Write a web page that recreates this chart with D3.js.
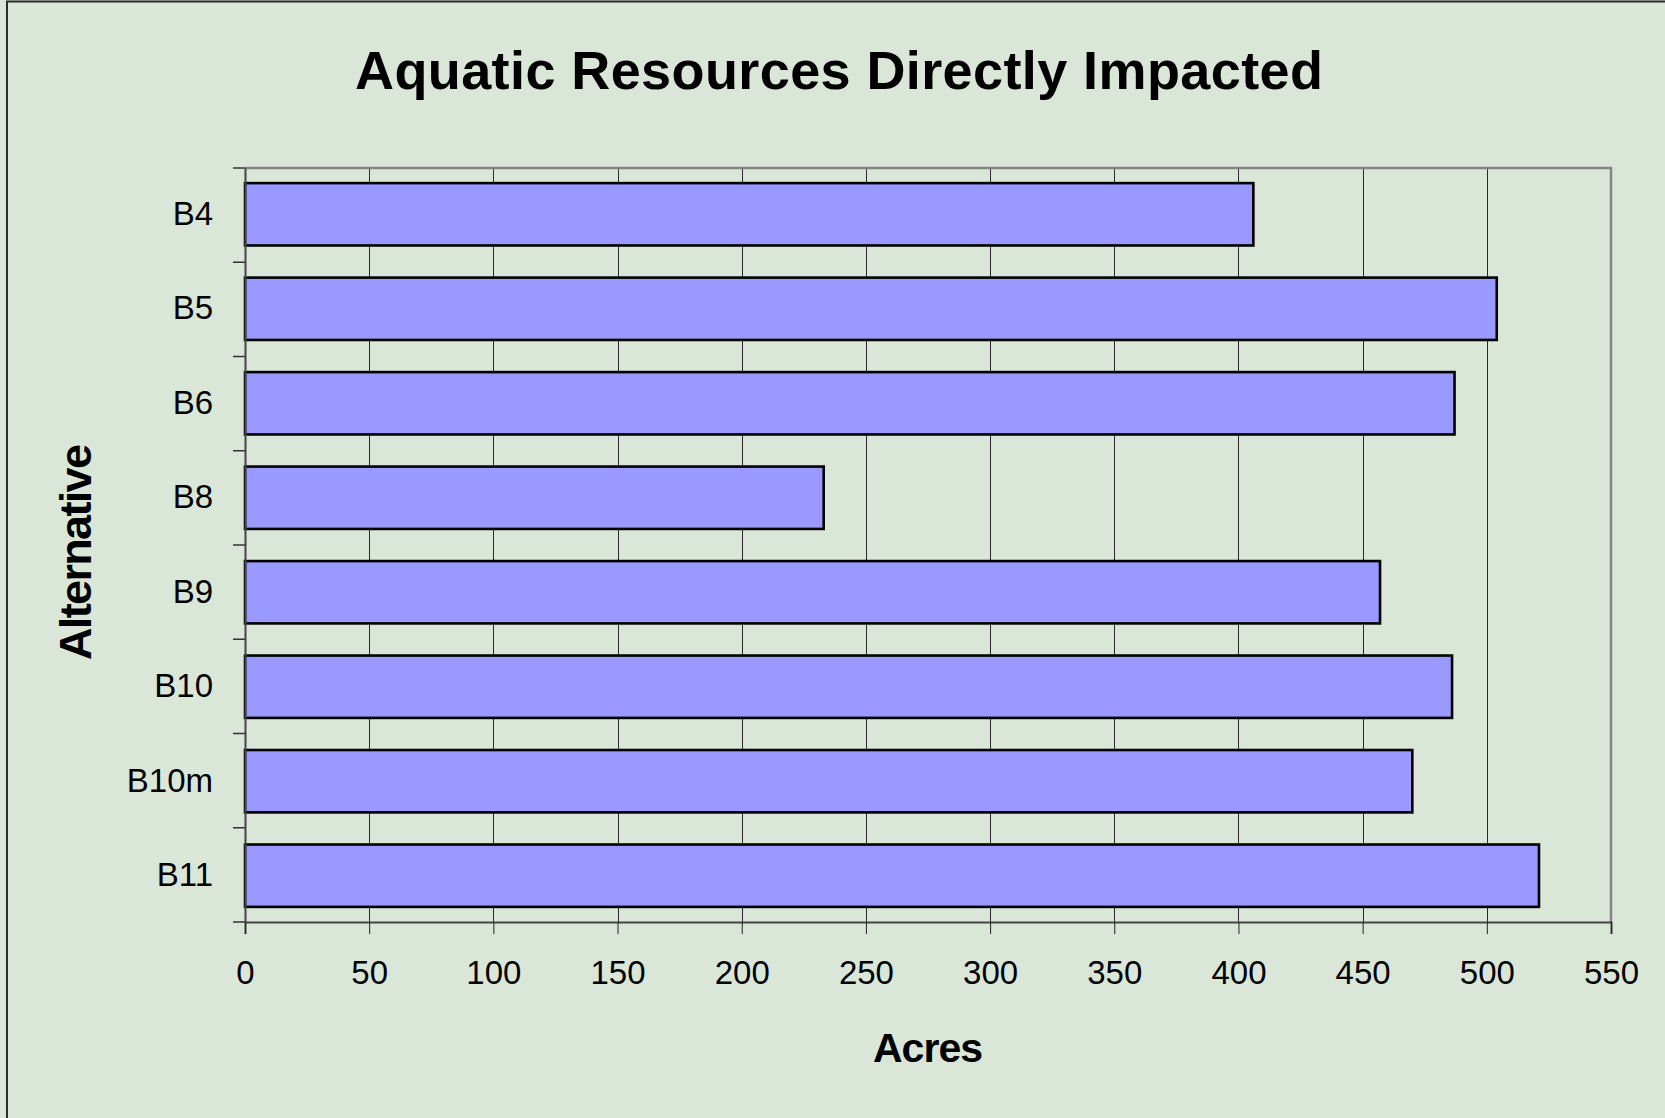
<!DOCTYPE html>
<html>
<head>
<meta charset="utf-8">
<script src="https://cdn.jsdelivr.net/npm/d3@7"></script>
<style>
  html, body { margin: 0; padding: 0; background: #DAE7D8; overflow: hidden; }
  svg { display: block; }
  text { font-family: "Liberation Sans", Arial, sans-serif; fill: #000; }
</style>
</head>
<body>
<svg id="chart" width="1665" height="1118"></svg>
<script>
// Acres of aquatic resources directly impacted, by alternative
const alternatives = ["B4", "B5", "B6", "B8", "B9", "B10", "B10m", "B11"];
const acres = [406, 504, 487, 233, 457, 486, 470, 521];
const xTicks = [0, 50, 100, 150, 200, 250, 300, 350, 400, 450, 500, 550];

const chartTitle = "Aquatic Resources Directly Impacted";
const xTitle = "Acres";
const yTitle = "Alternative";

const W = 1665, H = 1118;
const plot = { left: 245, right: 1611, top: 168, bottom: 922 };

const svg = d3.select("#chart");

// chart area background and frame
svg.append("rect")
  .attr("x", 7).attr("y", 1.5)
  .attr("width", W + 20).attr("height", H + 20)
  .attr("fill", "#DAE7D8")
  .attr("stroke", "#2b2b2b").attr("stroke-width", 2);

const x = d3.scaleLinear().domain([0, 550]).range([plot.left, plot.right]);
const y = d3.scaleBand().domain(alternatives)
  .range([plot.top, plot.bottom])
  .paddingInner(0.34).paddingOuter(0.16);

const data = alternatives.map((a, i) => ({ name: a, value: acres[i] }));

// vertical gridlines
svg.append("g")
  .selectAll("line")
  .data(xTicks.filter(t => t > 0 && t < 550))
  .join("line")
  .attr("x1", d => Math.round(x(d)) + 0.5).attr("x2", d => Math.round(x(d)) + 0.5)
  .attr("y1", plot.top).attr("y2", plot.bottom)
  .attr("stroke", "#2a2a2a").attr("stroke-width", 1);

// plot frame (top and right)
svg.append("path")
  .attr("d", `M${plot.left},${plot.top}H${plot.right}V${plot.bottom}`)
  .attr("fill", "none").attr("stroke", "#858585").attr("stroke-width", 2.5);

// bars
svg.append("g")
  .selectAll("rect")
  .data(data)
  .join("rect")
  .attr("x", x(0))
  .attr("y", d => y(d.name))
  .attr("width", d => x(d.value) - x(0))
  .attr("height", y.bandwidth())
  .attr("fill", "#9999FF")
  .attr("stroke", "#000").attr("stroke-width", 2.6);

// x axis
const xAxis = d3.axisBottom(x).tickValues(xTicks).tickSize(12).tickPadding(27)
  .tickFormat(d3.format("d"));
const gx = svg.append("g")
  .attr("transform", `translate(0,${plot.bottom})`)
  .call(xAxis);
gx.select(".domain").attr("stroke", "#444").attr("stroke-width", 2);
gx.selectAll(".tick line").attr("stroke", "#222").attr("stroke-width", 1);
gx.selectAll(".tick text")
  .attr("font-size", 33).attr("font-family", "Liberation Sans, Arial, sans-serif")
  .attr("fill", "#000");

// y axis: ticks sit on the category boundaries
const yAxis = d3.axisLeft(y).tickSize(0).tickPadding(32);
const gy = svg.append("g")
  .attr("transform", `translate(${plot.left},0)`)
  .call(yAxis);
gy.select(".domain").attr("stroke", "#444").attr("stroke-width", 2);
gy.selectAll(".tick text")
  .attr("font-size", 33).attr("font-family", "Liberation Sans, Arial, sans-serif")
  .attr("fill", "#000");

const boundaries = d3.range(alternatives.length + 1).map(i => plot.top + i * (plot.bottom - plot.top) / alternatives.length);
svg.append("g")
  .selectAll("line")
  .data(boundaries)
  .join("line")
  .attr("x1", plot.left - 12).attr("x2", plot.left)
  .attr("y1", d => d).attr("y2", d => d)
  .attr("stroke", "#333").attr("stroke-width", 1.5);

// titles
svg.append("text")
  .attr("x", 839).attr("y", 89)
  .attr("text-anchor", "middle")
  .attr("font-size", 54).attr("font-weight", "bold")
  .attr("textLength", 968).attr("lengthAdjust", "spacing")
  .text(chartTitle);

svg.append("text")
  .attr("x", 928).attr("y", 1062)
  .attr("text-anchor", "middle")
  .attr("font-size", 41).attr("font-weight", "bold")
  .attr("textLength", 110).attr("lengthAdjust", "spacing")
  .text(xTitle);

svg.append("text")
  .attr("transform", "translate(91,552) rotate(-90)")
  .attr("text-anchor", "middle")
  .attr("font-size", 45).attr("font-weight", "bold")
  .attr("textLength", 216).attr("lengthAdjust", "spacing")
  .text(yTitle);
</script>
</body>
</html>
